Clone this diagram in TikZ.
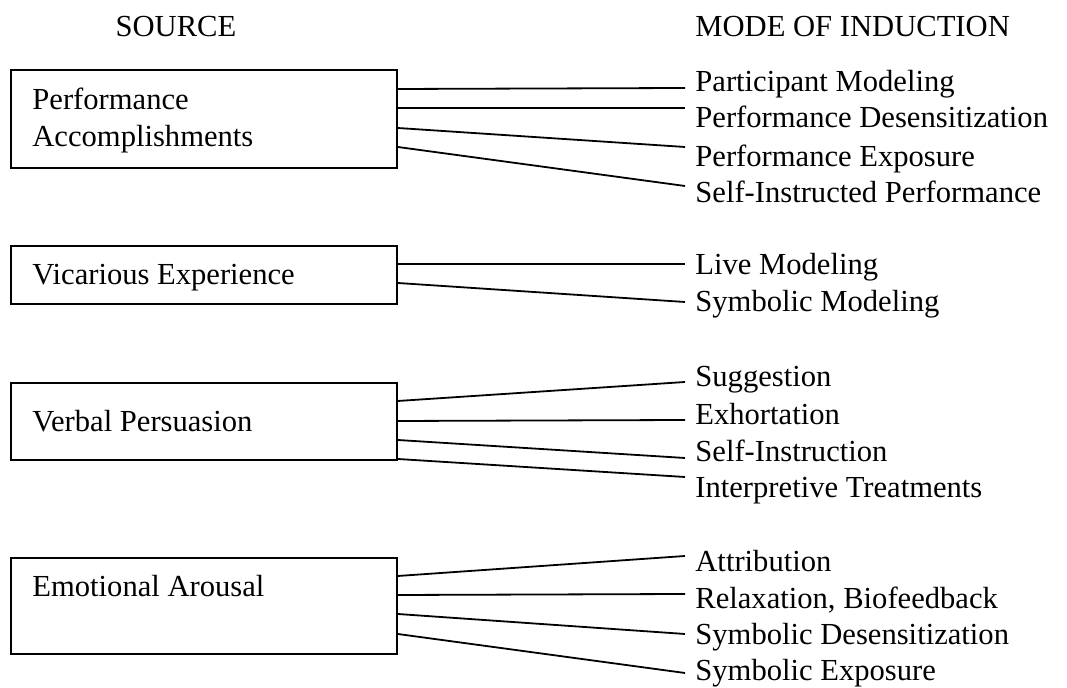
\documentclass[tikz,border=0pt]{standalone}
\usepackage{fontspec}
\setmainfont{Liberation Serif}
\begin{document}
\begin{tikzpicture}[x=0.5pt,y=-0.5pt,
  every node/.style={font=\fontsize{15.3}{18.5}\selectfont},
  srcbox/.style={draw,line width=0.9pt,anchor=north west,minimum width=193pt,inner sep=0pt},
  srctext/.style={anchor=base west,inner sep=0pt,align=left},
  mode/.style={anchor=base west,inner xsep=5pt,inner ysep=0pt},
  link/.style={line width=0.9pt}]
\useasboundingbox (0,0) rectangle (1067,688);
\node[anchor=base] (srchead) at (176,37) {SOURCE};
\node[mode] (modehead) at (685,37) {MODE OF INDUCTION};
% sources
\node[srcbox,minimum height=49pt] (perf) at (10,69) {};
\node[srcbox,minimum height=29pt] (vic) at (10,245) {};
\node[srcbox,minimum height=38.5pt] (verb) at (10,382) {};
\node[srcbox,minimum height=48pt] (emo) at (10,557) {};
\node[srctext] (perftxt) at (32,147) {Performance\\Accomplishments};
\node[srctext] (victxt) at (32,285) {Vicarious Experience};
\node[srctext] (verbtxt) at (32,432) {Verbal Persuasion};
\node[srctext] (emotxt) at (32,597) {Emotional Arousal};
\foreach \src/\ys/\ye/\yb/\name/\txt in {
  perf/20/88/92/pm/Participant Modeling,
  perf/39/108/128/pd/Performance Desensitization,
  perf/59/147/167/pe/Performance Exposure,
  perf/78/186/203/sip/Self-Instructed Performance,
  vic/19/264/275/lm/Live Modeling,
  vic/38/302/312/sm/Symbolic Modeling,
  verb/19/382/387/sg/Suggestion,
  verb/39/420/425/ex/Exhortation,
  verb/58/458/462/si/Self-Instruction,
  verb/77/477/498/it/Interpretive Treatments,
  emo/19/556/572/at/Attribution,
  emo/38/594/609/rb/{Relaxation, Biofeedback},
  emo/57/634/645/sd/Symbolic Desensitization,
  emo/77/673/681/se/Symbolic Exposure}{
  \node[mode] (\name) at (685,\yb) {\txt};
  \coordinate (\name-end) at (685,\ye);
  \draw[link] (\src.north east) ++(0,\ys) -- (\name-end);
}
\end{tikzpicture}
\end{document}
